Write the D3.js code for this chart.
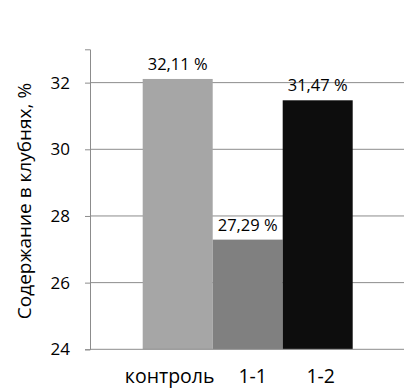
<!DOCTYPE html>
<html>
<head>
<meta charset="utf-8">
<script src="https://cdn.jsdelivr.net/npm/d3@7"></script>
<style>
  html, body { margin: 0; padding: 0; background: #fff; }
  svg text { font-family: "Open Sans", "Noto Sans", sans-serif; fill: #000; }
</style>
</head>
<body>
<svg id="chart" width="404" height="390"></svg>
<script>
// Содержание в клубнях, %
const categories = ["контроль", "1-1", "1-2"];
const values = [32.11, 27.29, 31.47];
const valueLabels = ["32,11 %", "27,29 %", "31,47 %"];
const barColors = ["#a6a6a6", "#808080", "#0d0d0d"];
const yTicks = [24, 26, 28, 30, 32];
const yDomain = [24, 33];

const svg = d3.select("#chart");
const plot = { left: 90, right: 404, top: 49.3, bottom: 349.3 };

const x = d3.scaleBand()
  .domain(categories)
  .range([142.7, 352.7])
  .padding(0);

const y = d3.scaleLinear()
  .domain(yDomain)
  .range([plot.bottom, plot.top]);

// horizontal gridlines
svg.append("g")
  .selectAll("line")
  .data(yTicks.slice(1))
  .join("line")
  .attr("x1", plot.left).attr("x2", plot.right)
  .attr("y1", d => y(d)).attr("y2", d => y(d))
  .attr("stroke", "#8c8c8c").attr("stroke-width", 1);

// y axis
const yAxis = d3.axisLeft(y).tickValues(yTicks).tickSize(5).tickPadding(15)
  .tickFormat(d3.format("d"));
const gy = svg.append("g").attr("transform", `translate(${plot.left},0)`).call(yAxis);
gy.select(".domain").attr("stroke", "#8c8c8c");
gy.selectAll(".tick line").attr("stroke", "#8c8c8c");
gy.selectAll(".tick text").attr("font-size", 17).attr("font-family", "Open Sans, sans-serif").attr("fill", "#000");

// bars
svg.append("g")
  .selectAll("rect")
  .data(values)
  .join("rect")
  .attr("x", (d, i) => x(categories[i]))
  .attr("width", x.bandwidth())
  .attr("y", d => y(d))
  .attr("height", d => y(yDomain[0]) - y(d))
  .attr("fill", (d, i) => barColors[i]);

// x baseline
svg.append("line")
  .attr("x1", plot.left).attr("x2", plot.right)
  .attr("y1", y(yDomain[0])).attr("y2", y(yDomain[0]))
  .attr("stroke", "#8c8c8c").attr("stroke-width", 1);

// value labels
svg.append("g")
  .selectAll("text")
  .data(values)
  .join("text")
  .attr("x", (d, i) => x(categories[i]) + x.bandwidth() / 2)
  .attr("y", d => y(d) - 9)
  .attr("text-anchor", "middle")
  .attr("font-size", 16.5)
  .text((d, i) => valueLabels[i]);

// category labels
const labelShift = [-8, 5, 3];
svg.append("g")
  .selectAll("text")
  .data(categories)
  .join("text")
  .attr("x", (d, i) => x(d) + x.bandwidth() / 2 + labelShift[i])
  .attr("y", 383)
  .attr("text-anchor", "middle")
  .attr("font-size", 19.5)
  .text(d => d);

// y axis title
svg.append("text")
  .attr("transform", `translate(31,201) rotate(-90)`)
  .attr("text-anchor", "middle")
  .attr("font-size", 19)
  .text("Содержание в клубнях, %");
</script>
</body>
</html>
